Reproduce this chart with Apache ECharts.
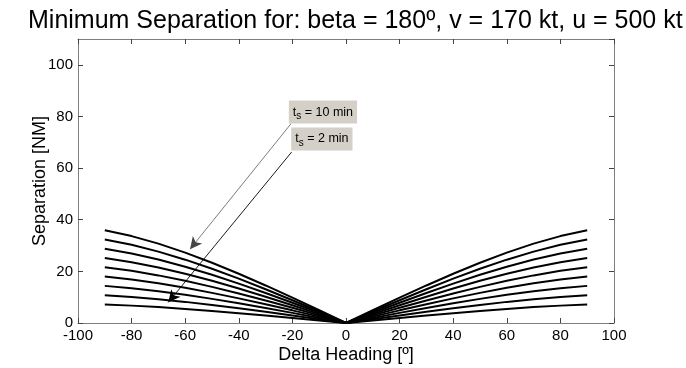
<!DOCTYPE html>
<html lang="en">
<head>
    <meta charset="utf-8">
    <title>Minimum Separation</title>
    <script src="https://cdn.jsdelivr.net/npm/echarts@6/dist/echarts.min.js"></script>
    <style>
        body { margin: 0; background: #fff; }
        #main { width: 686px; height: 368px; }
    </style>
</head>
<body>
<div id="main"></div>

<script type="text/javascript">

    // delta heading [deg], curves are symmetric about 0
    var heading = [0, 10, 20, 30, 40, 50, 60, 70, 80, 90];

    // separation [NM] for ts = 2 ... 10 min
    var sep2  = [0, 0.99, 1.96, 2.91, 3.82, 4.67, 5.45, 6.15, 6.73, 7.19];
    var sep3  = [0, 1.48, 2.94, 4.36, 5.72, 7.00, 8.18, 9.22, 10.10, 10.78];
    var sep4  = [0, 1.97, 3.92, 5.82, 7.63, 9.34, 10.90, 12.29, 13.47, 14.38];
    var sep5  = [0, 2.47, 4.90, 7.27, 9.54, 11.67, 13.63, 15.36, 16.83, 17.97];
    var sep6  = [0, 2.96, 5.88, 8.72, 11.45, 14.00, 16.35, 18.44, 20.20, 21.57];
    var sep7  = [0, 3.45, 6.86, 10.18, 13.35, 16.34, 19.08, 21.51, 23.56, 25.16];
    var sep8  = [0, 3.95, 7.84, 11.63, 15.26, 18.67, 21.80, 24.58, 26.93, 28.76];
    var sep9  = [0, 4.44, 8.82, 13.09, 17.17, 21.01, 24.53, 27.65, 30.30, 32.35];
    var sep10 = [0, 4.93, 9.80, 14.54, 19.08, 23.34, 27.25, 30.73, 33.66, 35.95];

    var curves = [sep2, sep3, sep4, sep5, sep6, sep7, sep8, sep9, sep10];
    var tsMin = [2, 3, 4, 5, 6, 7, 8, 9, 10];

    var xTicks = [-100, 100, 20];
    var yTicks = [0, 110, 20];

    var font = "'Liberation Sans', Arial, sans-serif";
    var boxColor = '#d4d0c8';
    var frameColor = '#7f7f7f';

    // mirror the half profile to -90 .. 90
    function mirror(vals) {
        var pts = [];
        for (var i = heading.length - 1; i > 0; i--) pts.push([-heading[i], vals[i]]);
        for (var j = 0; j < heading.length; j++) pts.push([heading[j], vals[j]]);
        return pts;
    }

    var series = curves.map(function (c, k) {
        return {
            name: 'ts = ' + tsMin[k] + ' min',
            type: 'line',
            data: mirror(c),
            showSymbol: false,
            lineStyle: { color: '#000', width: 2 },
            emphasis: { disabled: true }
        };
    });

    // annotations: text boxes + arrows
    var richTxt = {
        a: { fontSize: 12.5, fontFamily: font, color: '#000', lineHeight: 19 },
        s: { fontSize: 10, fontFamily: font, color: '#000', verticalAlign: 'bottom' }
    };
    series.push({
        type: 'line',
        data: [],
        markLine: {
            silent: true,
            symbol: ['none', 'arrow'],
            symbolSize: [9, 12],
            label: { show: false },
            data: [
                [{ coord: [-20.5, 77.2], lineStyle: { color: '#444', width: 0.7, type: 'solid' } },
                 { coord: [-58.2, 28.6] }],
                [{ coord: [-20.3, 66.2], lineStyle: { color: '#000', width: 0.9, type: 'solid' } },
                 { coord: [-66.3, 8.0] }]
            ]
        },
        markPoint: {
            silent: true,
            symbol: 'rect',
            symbolSize: 1,
            itemStyle: { color: 'rgba(0,0,0,0)' },
            label: {
                position: 'inside',
                backgroundColor: boxColor,
                padding: [2, 4, 2, 4],
                rich: richTxt
            },
            data: [
                { coord: [-8.6, 81.7], label: { formatter: '{a|t}{s|s}{a| = 10 min}' } },
                { coord: [-9.0, 71.3], label: { formatter: '{a|t}{s|s}{a| = 2 min}' } }
            ]
        }
    });

    function xAxisCfg(pos, labels) {
        return {
            type: 'value', position: pos,
            min: xTicks[0], max: xTicks[1], interval: xTicks[2],
            name: labels ? 'Delta Heading [º]' : '',
            nameLocation: 'middle', nameGap: 23, nameMoveOverlap: false,
            nameTextStyle: { fontFamily: font, fontSize: 18, color: '#000' },
            axisLine: { onZero: false, lineStyle: { color: frameColor, width: 1 } },
            axisTick: { inside: true, length: 5, lineStyle: { color: '#444' } },
            axisLabel: { show: labels, fontFamily: font, fontSize: 15, color: '#000', margin: 5 },
            splitLine: { show: false }
        };
    }

    function yAxisCfg(pos, labels) {
        return {
            type: 'value', position: pos,
            min: yTicks[0], max: yTicks[1], interval: yTicks[2],
            name: labels ? 'Separation [NM]' : '',
            nameLocation: 'middle', nameGap: 29, nameMoveOverlap: false,
            nameTextStyle: { fontFamily: font, fontSize: 18, color: '#000' },
            axisLine: { onZero: false, lineStyle: { color: frameColor, width: 1 } },
            axisTick: { inside: true, length: 5, lineStyle: { color: '#444' } },
            axisLabel: { show: labels, showMaxLabel: false, fontFamily: font, fontSize: 15, color: '#000', margin: 5 },
            splitLine: { show: false }
        };
    }

    var myChart = echarts.init(document.getElementById('main'));

    myChart.setOption({
        animation: false,
        title: {
            text: 'Minimum Separation for: beta = 180º, v = 170 kt, u = 500 kt',
            left: 23,
            top: 4,
            textStyle: { fontFamily: font, fontSize: 25, fontWeight: 'normal', color: '#000' }
        },
        grid: { left: 78, right: 72, top: 39, bottom: 45, containLabel: false, outerBoundsMode: 'none' },
        xAxis: [xAxisCfg('bottom', true), xAxisCfg('top', false)],
        yAxis: [yAxisCfg('left', true), yAxisCfg('right', false)],
        series: series
    });

</script>
</body>
</html>
